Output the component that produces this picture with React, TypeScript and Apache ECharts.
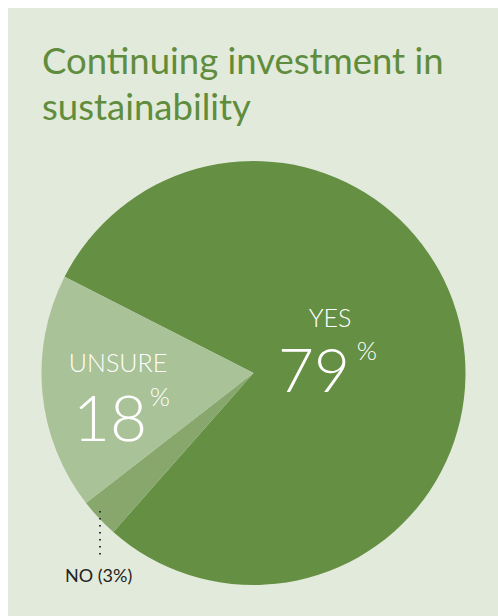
import React, { useEffect, useRef } from "react";
import * as echarts from "echarts";

const titleLines = ["Continuing investment in", "sustainability"];
const categories = ["YES", "NO", "UNSURE"];
const values = [79, 3, 18];
const colors = ["#658f43", "#87a76c", "#aac297"];

export default function App() {
  const ref = useRef<HTMLDivElement>(null);
  useEffect(() => {
    if (!ref.current) return;
    const chart = echarts.init(ref.current, null, { renderer: "svg" });
    const titleColor = "#5f8d3d";
    const hand = "Lato";
    const sans = "Lato";
    const txt = (x: number, y: number, text: string, font: string, fill = "#fff", align = "center") => ({
      type: "text",
      x,
      y,
      z: 100,
      silent: true,
      style: { text, fill, font, align, verticalAlign: "middle" },
    });
    chart.setOption({
      animation: false,
      backgroundColor: "#e2eadb",
      series: [
        {
          type: "pie",
          center: [245.5, 365],
          radius: 212,
          startAngle: 153,
          clockwise: true,
          silent: true,
          z: 1,
          label: { show: false },
          labelLine: { show: false },
          itemStyle: { borderWidth: 0 },
          data: categories.map((c, i) => ({
            name: c,
            value: values[i],
            itemStyle: { color: colors[i] },
          })),
        },
      ],
      graphic: [
        {
          type: "text",
          left: 34,
          top: 29,
          z: 100,
          style: {
            text: titleLines.join("\n"),
            fill: titleColor,
            font: `400 36.5px ${hand}`,
            lineHeight: 46,
          },
        },
        txt(322, 309, categories[0], `300 25px ${sans}`),
        txt(306, 360, String(values[0]), `300 62px ${hand}`),
        txt(359, 342, "%", `300 26px ${hand}`),
        txt(110, 354, categories[2], `300 25px ${sans}`),
        txt(102, 408, String(values[2]), `300 64px ${hand}`),
        txt(152, 388, "%", `300 26px ${hand}`),
        {
          type: "line",
          z: 100,
          shape: { x1: 92, y1: 503, x2: 92, y2: 551 },
          style: { stroke: "#333", lineWidth: 2, lineDash: [1.5, 5.5] },
        },
        txt(57, 567, `${categories[1]} (${values[1]}%)`, `400 18px ${sans}`, "#222", "left"),
      ],
    });
    return () => chart.dispose();
  }, []);
  return (
    <div
      ref={ref}
      style={{ position: "fixed", left: 8, top: 8, width: 490, height: 608 }}
    />
  );
}
